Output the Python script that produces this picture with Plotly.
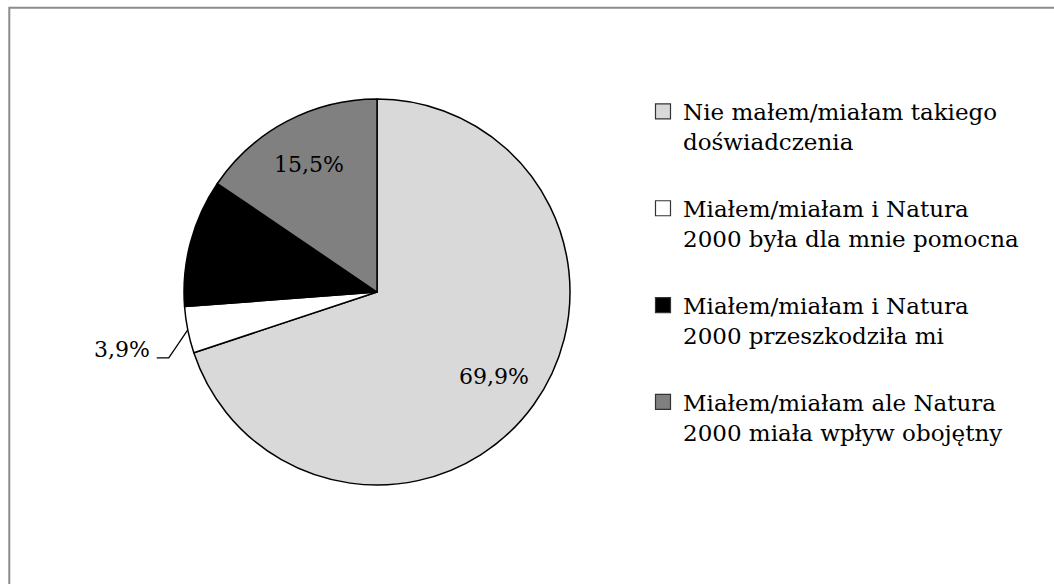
import math
import plotly.graph_objects as go

labels = [
    "Nie małem/miałam takiego<br>doświadczenia",
    "Miałem/miałam i Natura<br>2000 była dla mnie pomocna",
    "Miałem/miałam i Natura<br>2000 przeszkodziła mi",
    "Miałem/miałam ale Natura<br>2000 miała wpływ obojętny",
]
values = [69.9, 3.9, 10.7, 15.5]
colors = ["#d9d9d9", "#ffffff", "#000000", "#808080"]
slice_text = ["69,9%", "3,9%", "", "15,5%"]
text_outside = [False, True, False, False]

W, H = 1054, 584
FONT = "DejaVu Serif"
FS = 22
LFS = 23
cx, cy, r = 377, 292, 193

def px(x):
    return x / W

def py(y):
    return 1 - y / H

fig = go.Figure()
fig.add_trace(go.Pie(
    labels=labels, values=values, sort=False, direction="clockwise", rotation=0,
    marker=dict(colors=colors, line=dict(color="#000000", width=1.5)),
    textinfo="none",
    domain=dict(x=[px(cx - r), px(cx + r)], y=[py(cy + r), py(cy - r)]),
    showlegend=False, hoverinfo="label+percent",
))

# legend entries as dummy traces so spacing between items can be controlled
for lab, col in zip(labels, colors):
    fig.add_trace(go.Scatter(
        x=[None], y=[None], mode="markers", name=lab, legendgroup=lab,
        marker=dict(symbol="square", size=15, color=col, line=dict(color="#333333", width=1.2)),
        xaxis="x", yaxis="y",
    ))

# slice labels placed at each slice's mid angle
total = sum(values)
cum = 0.0
for v, t, outside in zip(values, slice_text, text_outside):
    mid = (cum + v / 2) / total * 2 * math.pi
    cum += v
    if not t:
        continue
    if outside:
        sx = cx + r * math.sin(mid)
        sy = cy - r * math.cos(mid)
        bx, by = sx - 19, sy + 28
        ex = bx - 12
        fig.add_shape(type="path", xref="paper", yref="paper",
                      path=f"M {px(sx)},{py(sy)} L {px(bx)},{py(by)} L {px(ex)},{py(by)}",
                      line=dict(color="#000000", width=1.3))
        fig.add_annotation(x=px(ex - 5), y=py(by - 8), xref="paper", yref="paper",
                           text=t, showarrow=False, xanchor="right", yanchor="middle",
                           font=dict(family=FONT, size=FS, color="#000000"))
    else:
        rr = 0.75 * r
        fig.add_annotation(x=px(cx + rr * math.sin(mid)), y=py(cy - rr * math.cos(mid)),
                           xref="paper", yref="paper", text=t, showarrow=False,
                           xanchor="center", yanchor="middle",
                           font=dict(family=FONT, size=FS, color="#000000"))

# chart border
fig.add_shape(type="rect", xref="paper", yref="paper",
              x0=px(9.3), y0=py(H + 10), x1=px(W + 10), y1=py(7.8),
              line=dict(color="#8c8c8c", width=2), fillcolor="rgba(0,0,0,0)", layer="above")

fig.update_layout(
    width=W, height=H, margin=dict(l=0, r=0, t=0, b=0),
    paper_bgcolor="#ffffff", plot_bgcolor="#ffffff",
    font=dict(family=FONT, size=FS, color="#000000"),
    xaxis=dict(visible=False, domain=[0.99, 1.0]),
    yaxis=dict(visible=False, domain=[0.99, 1.0]),
    legend=dict(x=px(643), y=py(90), xanchor="left", yanchor="top",
                tracegroupgap=34, itemwidth=30, valign="top",
                font=dict(family=FONT, size=LFS, color="#000000"),
                bgcolor="rgba(0,0,0,0)"),
)

fig.write_html("out.html", config={"displayModeBar": False},
               post_script="document.body.style.margin='0';")
